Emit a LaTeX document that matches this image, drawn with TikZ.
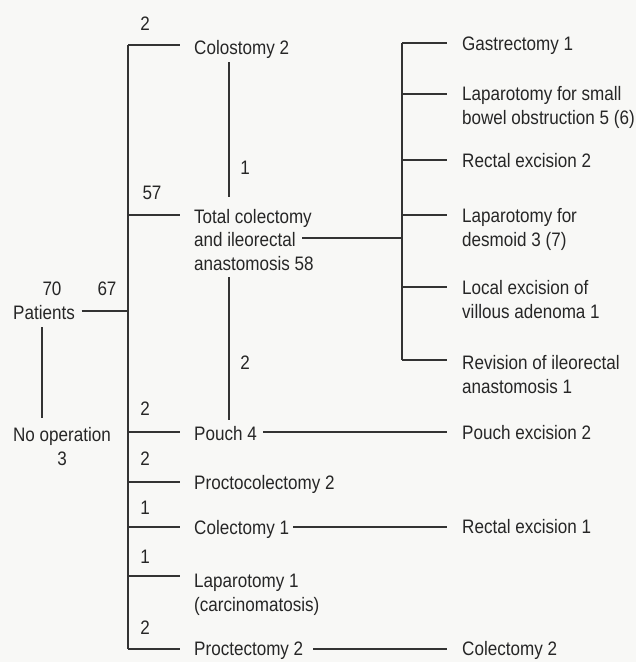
\documentclass[tikz,border=0pt]{standalone}
\usepackage{fontspec}
\setmainfont{Liberation Sans}[FakeStretch=0.875]
\definecolor{ink}{HTML}{262626}
\definecolor{lnc}{HTML}{333333}
\definecolor{bgc}{HTML}{F8F8F6}
\begin{document}
\begin{tikzpicture}[x=1pt,y=-1pt,
  txt/.style={inner sep=0pt, text=ink, font=\fontsize{19.5}{23.5}\selectfont, align=left, anchor=base west},
  num/.style={inner sep=0pt, text=ink, font=\fontsize{19.5}{23.5}\selectfont, anchor=base},
  ln/.style={draw=lnc, line width=1.3pt}]
\fill[bgc] (0,0) rectangle (636,662);
\useasboundingbox (0,0) rectangle (636,662);

% numbers
\node[num] (n2a) at (145,30) {2};
\node[num] (n1a) at (245,174) {1};
\node[num] (n57) at (152,199) {57};
\node[num] (n70) at (52,295) {70};
\node[num] (n67) at (107,295) {67};
\node[num] (n2b) at (245,369) {2};
\node[num] (n2c) at (145,415) {2};
\node[num] (n2d) at (145,465) {2};
\node[num] (n1b) at (145,514) {1};
\node[num] (n1c) at (145,563.5) {1};
\node[num] (n2e) at (145,634.5) {2};

% left
\node[txt] (pat) at (13,319) {Patients};
\node[num,align=center] (noop) at (62,465) {No operation\\3};

% middle column
\node[txt] (colo) at (194,54) {Colostomy 2};
\node[txt] (tca) at (194,270) {Total colectomy\\and ileorectal\\anastomosis 58};
\node[txt] (pouch) at (194,440) {Pouch 4};
\node[txt] (procol) at (194,489.5) {Proctocolectomy 2};
\node[txt] (colec) at (194,534.5) {Colectomy 1};
\node[txt] (lap1) at (194,611) {Laparotomy 1\\(carcinomatosis)};
\node[txt] (proct) at (194,655) {Proctectomy 2};

% right column
\node[txt] (gas) at (462,50) {Gastrectomy 1};
\node[txt] (lsb) at (462,124) {Laparotomy for small\\bowel obstruction 5 (6)};
\node[txt] (rex2) at (462,167) {Rectal excision 2};
\node[txt] (ldes) at (462,246) {Laparotomy for\\desmoid 3 (7)};
\node[txt] (lex) at (462,318) {Local excision of\\villous adenoma 1};
\node[txt] (rev) at (462,393) {Revision of ileorectal\\anastomosis 1};
\node[txt] (pex) at (462,439) {Pouch excision 2};
\node[txt] (rex1) at (462,533) {Rectal excision 1};
\node[txt] (col2) at (462,655.5) {Colectomy 2};

% junction coordinates
\coordinate (j1) at (128,45);
\coordinate (j2) at (128,215);
\coordinate (jP) at (128,311);
\coordinate (j3) at (128,432);
\coordinate (j4) at (128,482);
\coordinate (j5) at (128,527);
\coordinate (j6) at (128,576);
\coordinate (j7) at (128,649);

\coordinate (pvt) at (42,327);
\coordinate (pvb) at (42,418);
\coordinate (c1t) at (229,62);
\coordinate (c1b) at (229,197);
\coordinate (c2t) at (229,277);
\coordinate (c2b) at (229,420);

\coordinate (r1) at (402,43);
\coordinate (r2) at (402,94);
\coordinate (r3) at (402,160);
\coordinate (r4) at (402,215);
\coordinate (r5) at (402,287);
\coordinate (r6) at (402,360);
\coordinate (r0) at (402,238);
\coordinate (tcs) at (302,238);

% main trunk
\draw[ln] (j1) -- (j7);
\foreach \j/\n in {j1/colo, j2/tca, j3/pouch, j4/procol, j5/colec, j6/lap1, j7/proct}
  \draw[ln, shorten >=14pt] (\j) -- (\j -| \n.west);

% patients
\draw[ln, shorten <=6.5pt] (jP -| pat.east) -- (jP);
\draw[ln] (pvt) -- (pvb);

% middle verticals
\draw[ln] (c1t) -- (c1b);
\draw[ln] (c2t) -- (c2b);

% right tree
\draw[ln] (tcs) -- (r0);
\draw[ln] (r1) -- (r6);
\foreach \r/\n in {r1/gas, r2/lsb, r3/rex2, r4/ldes, r5/lex, r6/rev}
  \draw[ln, shorten >=15pt] (\r) -- (\r -| \n.west);

% long horizontals
\draw[ln, shorten <=6pt, shorten >=15pt] (j3 -| pouch.east) -- (j3 -| pex.west);
\draw[ln, shorten <=4pt, shorten >=15pt] (j5 -| colec.east) -- (j5 -| rex1.west);
\draw[ln, shorten <=10pt, shorten >=15pt] (j7 -| proct.east) -- (j7 -| col2.west);
\end{tikzpicture}
\end{document}
